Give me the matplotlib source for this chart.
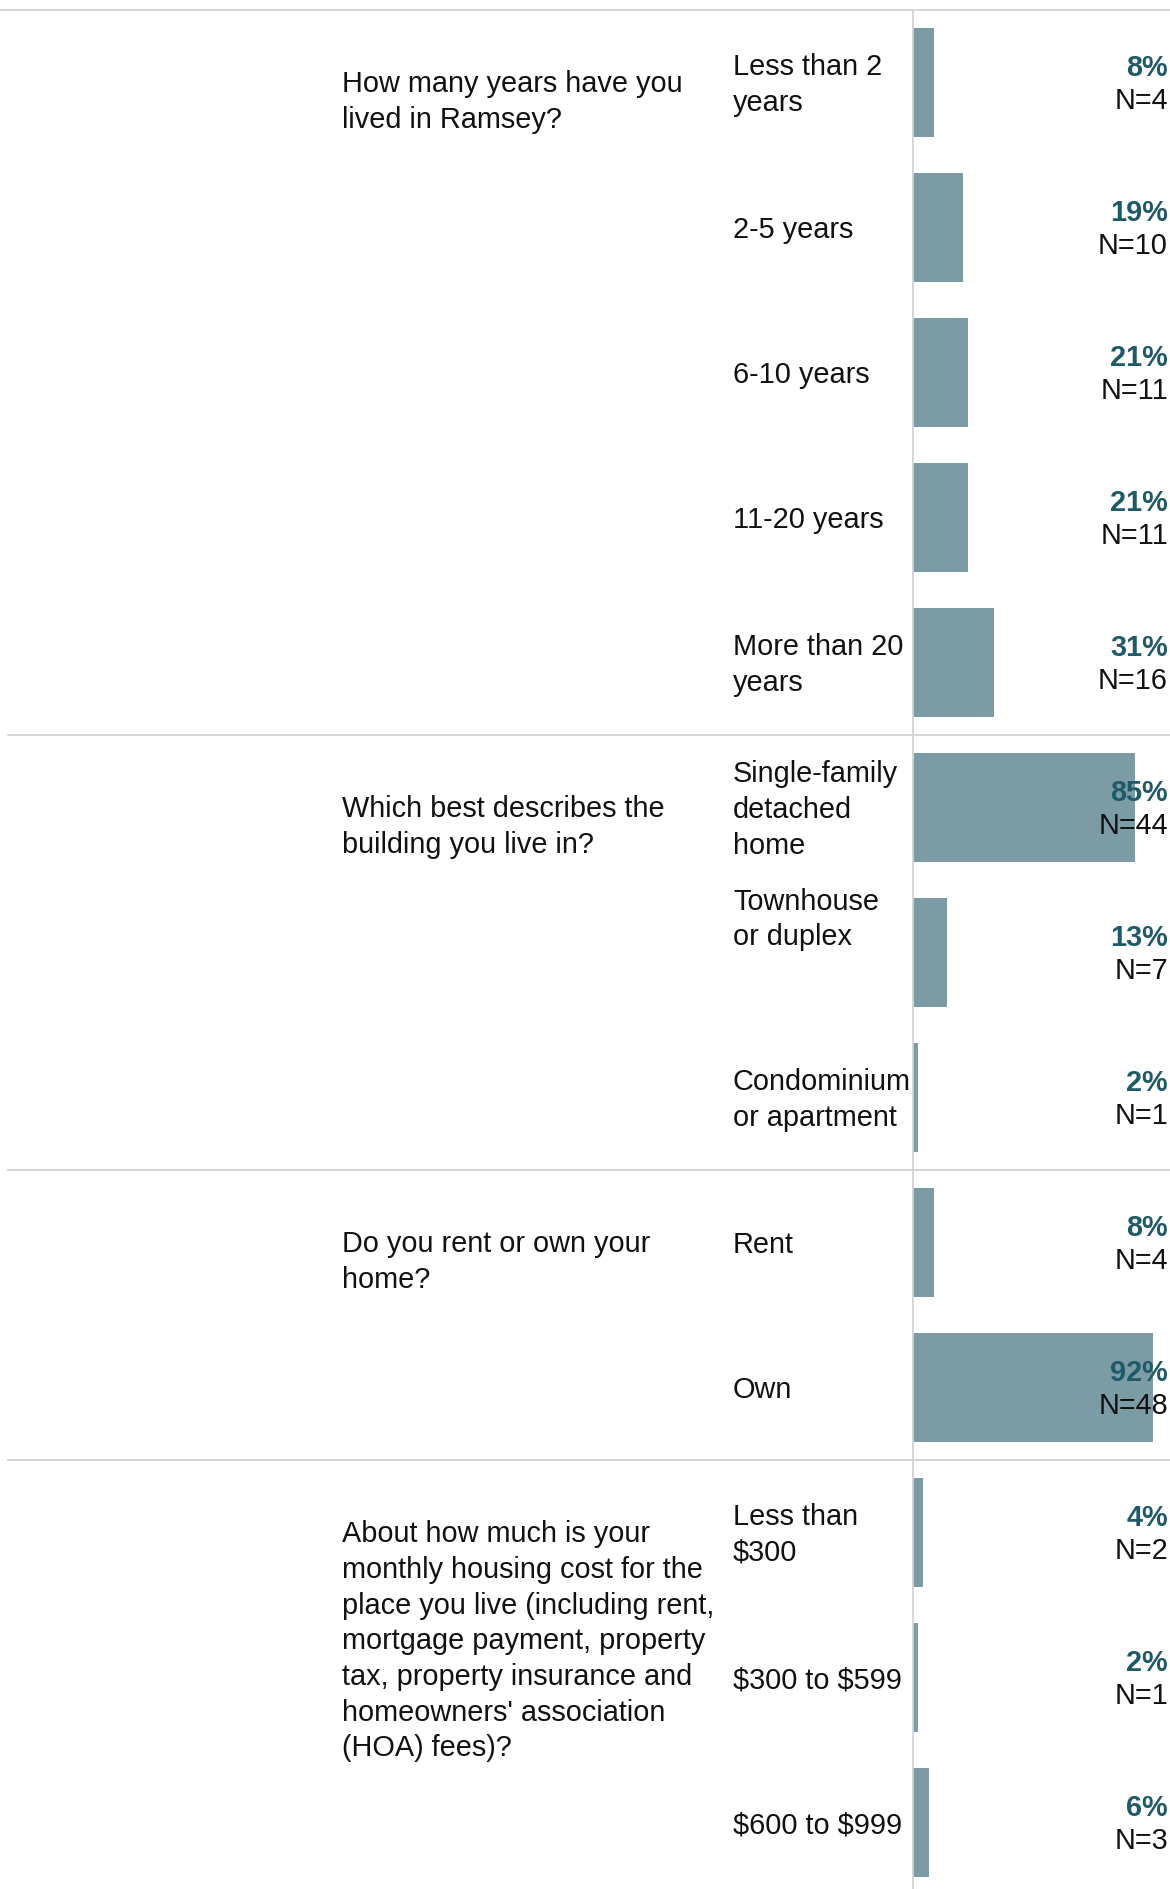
import matplotlib
matplotlib.use("Agg")
import matplotlib.pyplot as plt
import matplotlib.transforms as mtransforms

plt.rcParams['font.family'] = ['Liberation Sans', 'DejaVu Sans']
plt.rcParams['text.parse_math'] = False

questions = [
    "How many years have you\nlived in Ramsey?",
    "Which best describes the\nbuilding you live in?",
    "Do you rent or own your\nhome?",
    "About how much is your\nmonthly housing cost for the\nplace you live (including rent,\nmortgage payment, property\ntax, property insurance and\nhomeowners' association\n(HOA) fees)?",
]
question_sizes = [5, 3, 2, 3]

answers = [
    "Less than 2\nyears", "2-5 years", "6-10 years", "11-20 years", "More than 20\nyears",
    "Single-family\ndetached\nhome", "Townhouse\nor duplex\n \n ", "Condominium\nor apartment",
    "Rent", "Own",
    "Less than\n$300", "$300 to $599", "$600 to $999",
]
percents = [8, 19, 21, 21, 31, 85, 13, 2, 8, 92, 4, 2, 6]
counts = [4, 10, 11, 11, 16, 44, 7, 1, 4, 48, 2, 1, 3]

W, H = 1170, 1889
fig = plt.figure(figsize=(W / 100, H / 100), dpi=100)

x0_px = 913
pitch_px = 145.0
top_px = 10
ax = fig.add_axes([x0_px / W, 0, (W - x0_px) / W, 1])
ytop = -0.5 - top_px / pitch_px
ybot = ytop + H / pitch_px
ax.set_ylim(ybot, ytop)
ax.set_xlim(0, (W - x0_px) / 2.61)

bar_color = "#7b9ca5"
pct_color = "#1f5a68"
grid_color = "#d3d3d3"

rows = list(range(len(answers)))
ax.barh(rows, percents, height=0.75, color=bar_color, zorder=2)

for s in ["top", "right", "bottom"]:
    ax.spines[s].set_visible(False)
ax.spines["left"].set_color(grid_color)
ax.spines["left"].set_linewidth(1.3)
ax.spines["left"].set_bounds(-0.5, ybot)
ax.set_xticks([])
ax.set_yticks([])
ax.patch.set_alpha(0)

trans = mtransforms.blended_transform_factory(fig.transFigure, ax.transData)

fs = 20.8
ls = 1.35
ax.axhline(-0.5, xmin=-x0_px / (W - x0_px), xmax=1, color=grid_color, lw=1.3, clip_on=False)
start = 0
for n in question_sizes:
    end = start + n
    if end < len(answers):
        ax.axhline(end - 0.5, xmin=(8 - x0_px) / (W - x0_px), xmax=1,
                   color=grid_color, lw=1.3, clip_on=False)
    start = end

start = 0
for q, n in zip(questions, question_sizes):
    ax.text(342 / W, start - 0.085, q, transform=trans, ha="left", va="top",
            fontsize=fs, linespacing=ls, color="#111111")
    start += n

for i, (a, p, c) in enumerate(zip(answers, percents, counts)):
    ax.text(733 / W, i + 0.018, a, transform=trans, ha="left", va="center",
            fontsize=fs, linespacing=ls, color="#111111")
    ax.text(1168 / W, i - 0.098, f"{p}%", transform=trans, ha="right", va="center",
            fontsize=fs, fontweight="bold", color=pct_color, zorder=3)
    ax.text(1168 / W, i + 0.13, f"N={c}", transform=trans, ha="right", va="center",
            fontsize=fs, color="#111111", zorder=3)

fig.savefig("out.png", dpi=100)
